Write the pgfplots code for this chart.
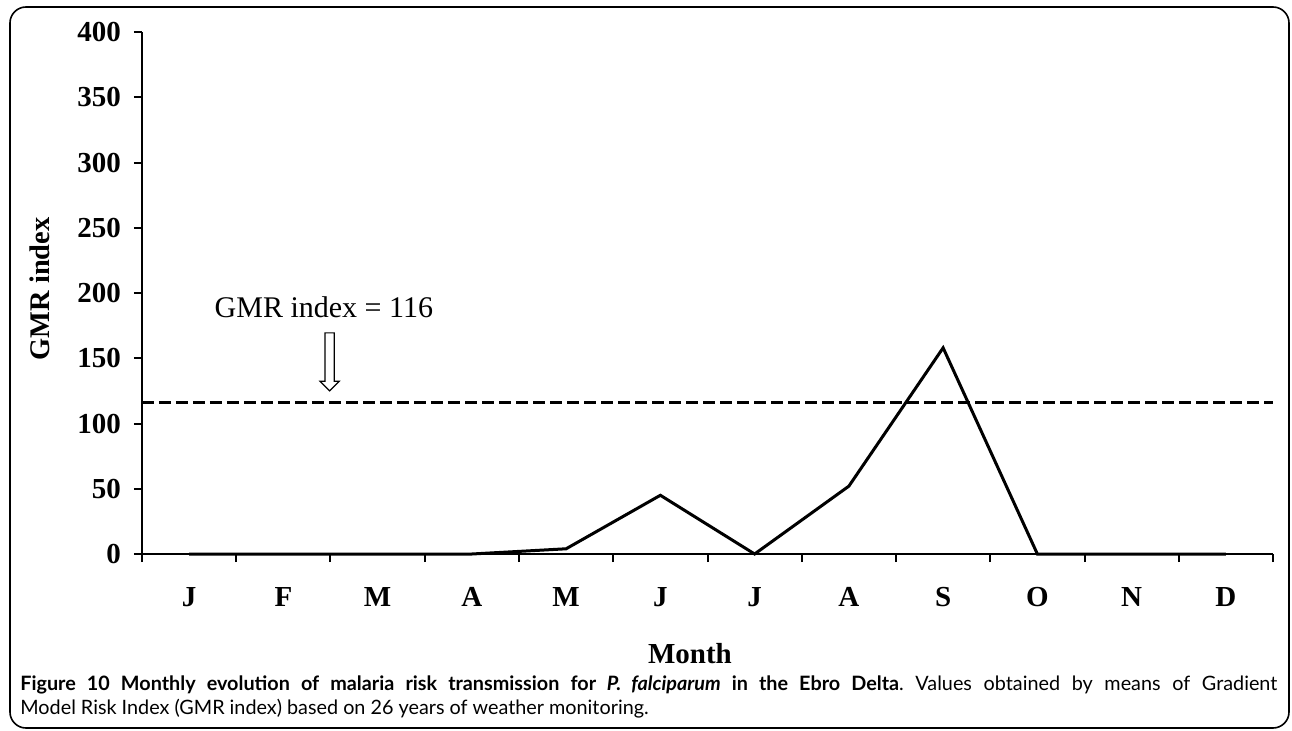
\documentclass[border=0pt]{standalone}
\usepackage{fontspec}
\setmainfont{Liberation Serif}
\newfontfamily\capfont{Lato}
\usepackage{pgfplots}
\pgfplotsset{compat=1.18}
\usetikzlibrary{shapes.arrows}
\begin{document}
\frenchspacing
\begin{tikzpicture}
\begin{axis}[name=ax, scale only axis, width=565.5pt, height=261pt,
 xmin=0.5, xmax=12.5, ymin=0, ymax=400,
 axis x line*=bottom, axis y line*=left,
 axis line style={line width=1pt,-},
 xtick={0.5,1.5,...,12.5}, x tick label as interval,
 xticklabels={J,F,M,A,M,J,J,A,S,O,N,D},
 ytick={0,50,...,400},
 tick align=outside, major tick length=4pt,
 every tick/.style={black,line width=1pt},
 /pgf/number format/assume math mode=true,
 tick label style={font=\fontsize{14.5}{16}\selectfont\bfseries},
 x tick label style={yshift=-9pt},
 y tick label style={xshift=-3pt},
 xlabel={Month}, ylabel={GMR index},
 xlabel style={at={(axis description cs:0.4845,-0.19)}, anchor=center, font=\fontsize{14.5}{17}\selectfont\bfseries},
 ylabel style={at={(axis description cs:-0.09,0.508)}, anchor=center, font=\fontsize{14.2}{17}\selectfont\bfseries},
 clip=false]
\addplot[line width=1.7pt, black, dash pattern=on 6pt off 2.5pt] coordinates {(0.5,116) (12.5,116)};
\addplot[line width=1.5pt, black, line join=miter] coordinates {(1,0)(2,0)(3,0)(4,0)(5,4)(6,45)(7,0)(8,52)(9,158)(10,0)(11,0)(12,0)};
\node[font=\fontsize{15}{18}\selectfont] at (axis cs:2.43,189) {GMR index = 116};
\node[single arrow, draw, line width=0.6pt, shape border rotate=270, minimum height=29pt, inner sep=2pt, single arrow head extend=2.5pt, single arrow head indent=0pt] at (axis cs:2.49,149) {};
\end{axis}
\begin{scope}[shift={(ax.south west)}]
\draw[line width=0.8pt, rounded corners=8pt] (-66pt,-87pt) rectangle (573.5pt,273.5pt);
\node[anchor=north west, text width=628.5pt, align=justify, inner sep=0pt, font=\capfont\fontsize{9.9}{12}\selectfont] at (-61pt,-60.5pt)
{\frenchspacing\textbf{Figure 10 Monthly evolution of malaria risk transmission for \textit{P. falciparum} in the Ebro Delta}. Values obtained by means of Gradient\linebreak Model Risk Index (GMR index) based on 26 years of weather monitoring.};
\pgfresetboundingbox
\path (-71pt,-88pt) rectangle (575pt,277pt);
\end{scope}
\end{tikzpicture}
\end{document}
